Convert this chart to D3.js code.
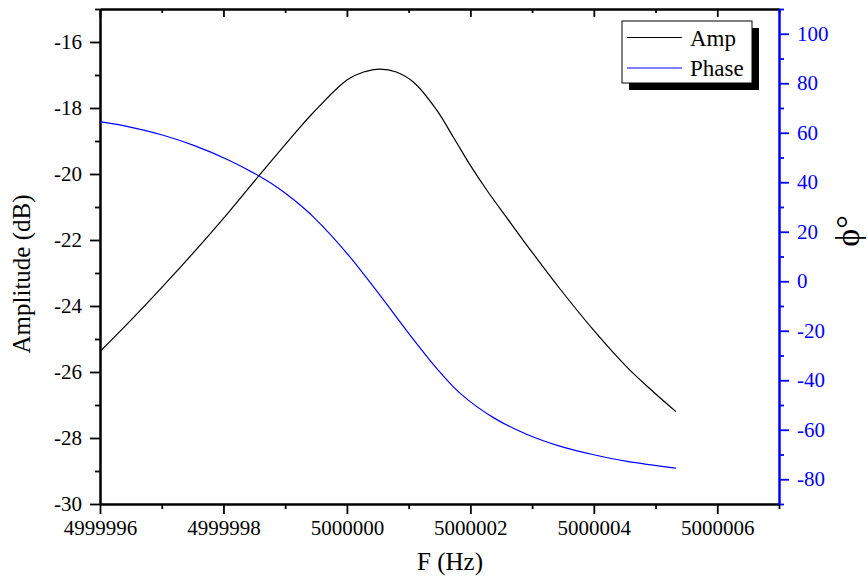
<!DOCTYPE html>
<html>
<head>
<meta charset="utf-8">
<script src="https://cdn.jsdelivr.net/npm/d3@7"></script>
<style>
  body { margin: 0; background: #fff; }
  svg text { font-family: "Liberation Serif", "Times New Roman", serif; }
</style>
</head>
<body>
<div id="chart"></div>
<script>
// frequency (Hz) and amplitude (dB)
var ampFreq = [4999996.00, 4999996.47, 4999997.01, 4999997.54, 4999998.08, 4999998.62, 4999999.16,
               4999999.46, 5000000.00, 5000000.27, 5000000.54, 5000000.80, 5000001.08, 5000001.45,
               5000001.73, 5000002.00, 5000002.27, 5000002.60, 5000002.92, 5000003.46, 5000004.00,
               5000004.54, 5000004.94, 5000005.33];
var ampDb = [-25.38, -24.49, -23.42, -22.33, -21.17, -19.95, -18.76,
             -18.13, -17.15, -16.91, -16.82, -16.91, -17.22, -18.05,
             -18.90, -19.74, -20.50, -21.35, -22.17, -23.50, -24.74,
             -25.86, -26.56, -27.20];

// frequency (Hz) and phase (deg)
var phaseFreq = [4999996.00, 4999996.47, 4999997.01, 4999997.54, 4999998.08, 4999998.62, 4999998.92,
                 4999999.16, 4999999.46, 5000000.00, 5000000.54, 5000001.08, 5000001.43, 5000001.84,
                 5000002.38, 5000002.92, 5000003.46, 5000004.00, 5000004.54, 5000005.33];
var phaseDeg = [64.5, 62.4, 59.1, 54.7, 49.0, 41.9, 37.1,
                32.5, 25.9, 11.3, -5.8, -23.6, -34.5, -45.4,
                -55.2, -61.9, -66.7, -70.1, -72.8, -75.5];

var xMajor = [4999996, 4999998, 5000000, 5000002, 5000004, 5000006];
var xMinor = [4999997, 4999999, 5000001, 5000003, 5000005, 5000007];
var ampMajor = [-30, -28, -26, -24, -22, -20, -18, -16];
var ampMinor = [-29, -27, -25, -23, -21, -19, -17, -15];
var phaseMajor = [-80, -60, -40, -20, 0, 20, 40, 60, 80, 100];
var phaseMinor = [-90, -70, -50, -30, -10, 10, 30, 50, 70, 90, 110];
var legendNames = ["Amp", "Phase"];
var colors = ["#000000", "#0000ff"];

var margin = {top: 9, right: 89, bottom: 75, left: 100},
    width = 868 - margin.left - margin.right,
    height = 579 - margin.top - margin.bottom;

var svg = d3.select("#chart")
  .append("svg")
    .attr("width", 868)
    .attr("height", 579)
  .append("g")
    .attr("transform", "translate(" + margin.left + "," + margin.top + ")");

var x = d3.scaleLinear().domain([4999996, 5000007]).range([0, width]);
var yA = d3.scaleLinear().domain([-30, -15]).range([height, 0]);
var yP = d3.scaleLinear().domain([-90, 110]).range([height, 0]);

var fmt = function(d) { return String(d); };

function styleAxis(g, color, size) {
  g.select(".domain").attr("stroke", color).attr("stroke-width", 2);
  g.selectAll(".tick line").attr("stroke", color).attr("stroke-width", 1.8);
  g.selectAll("text")
    .attr("fill", color)
    .style("font-family", "'Liberation Serif', 'Times New Roman', serif")
    .style("font-size", size + "px");
}

// minor ticks first, then major with labels
svg.append("g")
  .attr("transform", "translate(0," + height + ")")
  .call(d3.axisBottom(x).tickValues(xMinor).tickSize(5).tickSizeOuter(0).tickFormat(""))
  .call(styleAxis, "#000", 21);
svg.append("g")
  .attr("transform", "translate(0," + height + ")")
  .call(d3.axisBottom(x).tickValues(xMajor).tickSize(10).tickPadding(6).tickSizeOuter(0).tickFormat(fmt))
  .call(styleAxis, "#000", 21);

// top axis, ticks inward
svg.append("g")
  .call(d3.axisBottom(x).tickValues(xMinor).tickSize(4).tickSizeOuter(0).tickFormat(""))
  .call(styleAxis, "#000", 21);
svg.append("g")
  .call(d3.axisBottom(x).tickValues(xMajor).tickSize(8).tickSizeOuter(0).tickFormat(""))
  .call(styleAxis, "#000", 21);

svg.append("g")
  .call(d3.axisLeft(yA).tickValues(ampMinor).tickSize(5).tickSizeOuter(0).tickFormat(""))
  .call(styleAxis, "#000", 21);
svg.append("g")
  .call(d3.axisLeft(yA).tickValues(ampMajor).tickSize(10).tickPadding(8).tickSizeOuter(0).tickFormat(fmt))
  .call(styleAxis, "#000", 21);

svg.append("g")
  .attr("transform", "translate(" + width + ",0)")
  .call(d3.axisRight(yP).tickValues(phaseMinor).tickSize(5).tickSizeOuter(0).tickFormat(""))
  .call(styleAxis, "#0000ff", 21);
svg.append("g")
  .attr("transform", "translate(" + width + ",0)")
  .call(d3.axisRight(yP).tickValues(phaseMajor).tickSize(10).tickPadding(8).tickSizeOuter(0).tickFormat(fmt))
  .call(styleAxis, "#0000ff", 21);

// curves
var ampLine = d3.line()
  .x(function(d, i) { return x(ampFreq[i]); })
  .y(function(d) { return yA(d); })
  .curve(d3.curveCatmullRom);
var phaseLine = d3.line()
  .x(function(d, i) { return x(phaseFreq[i]); })
  .y(function(d) { return yP(d); })
  .curve(d3.curveCatmullRom);

svg.append("path")
  .datum(ampDb)
  .attr("fill", "none")
  .attr("stroke", colors[0])
  .attr("stroke-width", 1.2)
  .attr("d", ampLine);
svg.append("path")
  .datum(phaseDeg)
  .attr("fill", "none")
  .attr("stroke", colors[1])
  .attr("stroke-width", 1.2)
  .attr("d", phaseLine);

// axis titles
svg.append("text")
  .attr("x", 350)
  .attr("y", 561)
  .attr("text-anchor", "middle")
  .style("font-size", "25px")
  .text("F (Hz)");

svg.append("text")
  .attr("transform", "translate(" + (30 - margin.left) + "," + 265 + ") rotate(-90)")
  .attr("text-anchor", "middle")
  .style("font-size", "25px")
  .text("Amplitude (dB)");

svg.append("text")
  .attr("transform", "translate(" + (859 - margin.left) + "," + 222 + ") rotate(-90)")
  .attr("text-anchor", "middle")
  .style("font-size", "34px")
  .text("ϕ°");

// legend with drop shadow
var leg = svg.append("g").attr("transform", "translate(" + (622 - margin.left) + "," + (21 - margin.top) + ")");
leg.append("rect").attr("x", 7).attr("y", 7).attr("width", 130).attr("height", 62).attr("fill", "#000");
leg.append("rect").attr("width", 130).attr("height", 62).attr("fill", "#fff").attr("stroke", "#000").attr("stroke-width", 1);

legendNames.forEach(function(name, i) {
  var yy = 16.5 + i * 30.5;
  leg.append("line")
    .attr("x1", 5).attr("x2", 60)
    .attr("y1", yy).attr("y2", yy)
    .attr("stroke", colors[i]).attr("stroke-width", 1.2);
  leg.append("text")
    .attr("x", 68).attr("y", yy + 8)
    .style("font-size", "23px")
    .text(name);
});
</script>
</body>
</html>
